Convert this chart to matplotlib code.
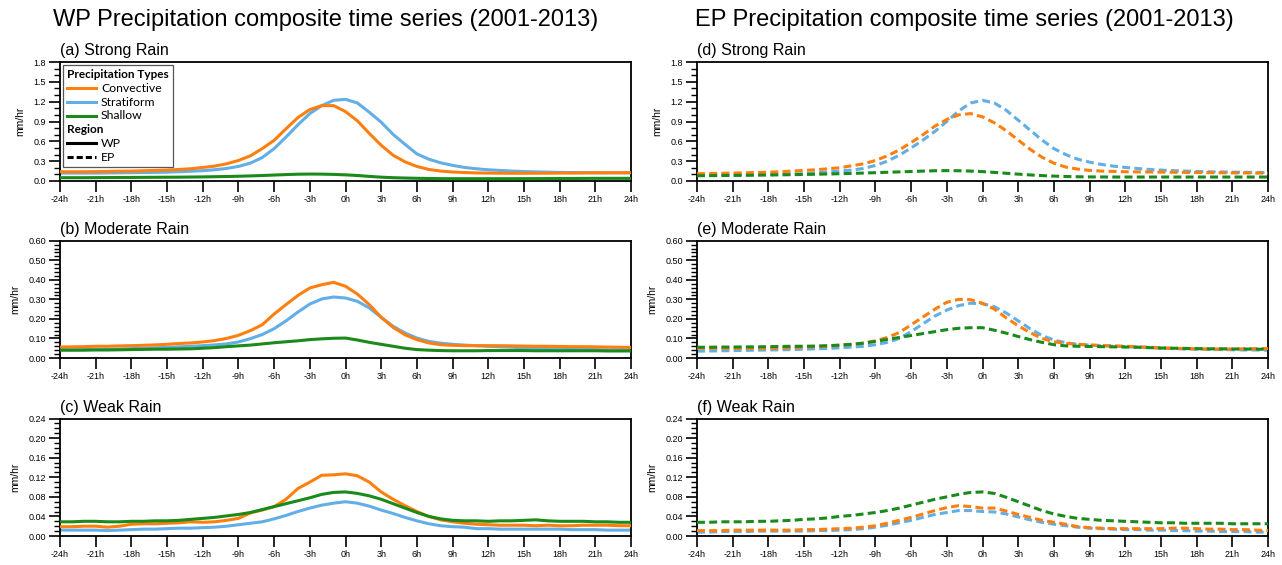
import numpy as np
import matplotlib
matplotlib.use("Agg")
import matplotlib.pyplot as plt
from matplotlib.lines import Line2D
from matplotlib.ticker import MultipleLocator, FormatStrFormatter
from matplotlib.offsetbox import AnchoredOffsetbox, VPacker, HPacker, TextArea, DrawingArea

hours = list(range(-24, 25))
xtick_vals = list(range(-24, 25, 3))
xtick_labels = [f"{h}h" for h in xtick_vals]

# ---- WP (left column) ----
a_conv = [0.14, 0.14, 0.14, 0.142, 0.145, 0.148, 0.15, 0.155, 0.16, 0.165,
          0.175, 0.185, 0.205, 0.225, 0.26, 0.31, 0.38, 0.49, 0.615, 0.79, 0.96, 1.08, 1.14, 1.14,
          1.05, 0.91, 0.72, 0.54, 0.39, 0.29, 0.22, 0.175, 0.15, 0.136, 0.128, 0.122, 0.12, 0.118,
          0.117, 0.117, 0.117, 0.118, 0.12, 0.12, 0.122, 0.124, 0.125, 0.125, 0.125]
a_strat = [0.12, 0.12, 0.12, 0.12, 0.122, 0.124, 0.126, 0.128, 0.13, 0.134,
           0.14, 0.148, 0.156, 0.17, 0.19, 0.22, 0.27, 0.355, 0.49, 0.665, 0.85, 1.02, 1.14, 1.22,
           1.235, 1.18, 1.04, 0.89, 0.705, 0.555, 0.41, 0.33, 0.275, 0.237, 0.205, 0.185, 0.17, 0.16,
           0.15, 0.143, 0.138, 0.134, 0.13, 0.128, 0.126, 0.125, 0.124, 0.124, 0.124]
a_shal = [0.05, 0.05, 0.05, 0.051, 0.052, 0.053, 0.054, 0.055, 0.056, 0.057,
          0.058, 0.06, 0.062, 0.065, 0.068, 0.072, 0.077, 0.083, 0.09, 0.097, 0.103, 0.105, 0.104, 0.1,
          0.093, 0.083, 0.07, 0.058, 0.05, 0.045, 0.041, 0.038, 0.036, 0.035, 0.035, 0.035, 0.035, 0.035,
          0.035, 0.036, 0.036, 0.037, 0.038, 0.038, 0.039, 0.04, 0.04, 0.04, 0.04]

b_conv = [0.056, 0.057, 0.058, 0.06, 0.06, 0.062, 0.063, 0.065, 0.067, 0.07,
          0.074, 0.077, 0.082, 0.089, 0.1, 0.116, 0.14, 0.17, 0.225, 0.273, 0.32, 0.358, 0.375, 0.387,
          0.367, 0.327, 0.273, 0.208, 0.157, 0.119, 0.094, 0.077, 0.068, 0.065, 0.063, 0.063, 0.063, 0.063,
          0.062, 0.061, 0.06, 0.06, 0.059, 0.058, 0.058, 0.057, 0.056, 0.055, 0.054]
b_strat = [0.042, 0.042, 0.043, 0.044, 0.045, 0.046, 0.048, 0.05, 0.052, 0.054,
           0.057, 0.06, 0.063, 0.067, 0.072, 0.082, 0.099, 0.12, 0.15, 0.19, 0.235, 0.276, 0.302, 0.312,
           0.307, 0.29, 0.256, 0.208, 0.162, 0.128, 0.102, 0.085, 0.076, 0.07, 0.066, 0.063, 0.06, 0.057,
           0.055, 0.052, 0.05, 0.048, 0.046, 0.045, 0.044, 0.043, 0.042, 0.042, 0.042]
b_shal = [0.04, 0.04, 0.04, 0.041, 0.041, 0.042, 0.043, 0.044, 0.045, 0.045,
          0.046, 0.047, 0.05, 0.053, 0.058, 0.062, 0.066, 0.072, 0.078, 0.083, 0.088, 0.094, 0.098, 0.101,
          0.102, 0.092, 0.08, 0.07, 0.06, 0.05, 0.043, 0.04, 0.038, 0.037, 0.037, 0.037, 0.038, 0.038,
          0.038, 0.038, 0.037, 0.037, 0.037, 0.037, 0.037, 0.037, 0.036, 0.036, 0.036]

c_conv = [0.019, 0.019, 0.02, 0.02, 0.018, 0.02, 0.024, 0.025, 0.025, 0.026,
          0.027, 0.029, 0.028, 0.029, 0.032, 0.036, 0.047, 0.053, 0.06, 0.075, 0.097, 0.11, 0.124, 0.125,
          0.127, 0.123, 0.11, 0.09, 0.075, 0.062, 0.05, 0.04, 0.033, 0.029, 0.026, 0.024, 0.023, 0.022,
          0.022, 0.022, 0.021, 0.022, 0.021, 0.021, 0.022, 0.022, 0.022, 0.021, 0.021]
c_strat = [0.012, 0.012, 0.012, 0.012, 0.011, 0.012, 0.013, 0.014, 0.014, 0.015,
           0.016, 0.016, 0.017, 0.018, 0.02, 0.023, 0.026, 0.029, 0.035, 0.042, 0.05, 0.057, 0.063, 0.067,
           0.07, 0.067, 0.061, 0.053, 0.046, 0.038, 0.031, 0.025, 0.021, 0.019, 0.018, 0.015, 0.015, 0.014,
           0.014, 0.014, 0.014, 0.014, 0.014, 0.013, 0.013, 0.013, 0.012, 0.012, 0.012]
c_shal = [0.029, 0.029, 0.03, 0.03, 0.029, 0.029, 0.03, 0.03, 0.031, 0.031,
          0.032, 0.034, 0.036, 0.038, 0.041, 0.044, 0.048, 0.054, 0.06, 0.066, 0.072, 0.078, 0.085, 0.089,
          0.09, 0.087, 0.082, 0.075, 0.066, 0.057, 0.048, 0.04, 0.035, 0.032, 0.031, 0.031, 0.03, 0.031,
          0.031, 0.032, 0.033, 0.031, 0.03, 0.03, 0.03, 0.029, 0.029, 0.028, 0.028]

# ---- EP (right column) ----
d_conv = [0.11, 0.113, 0.116, 0.12, 0.124, 0.128, 0.133, 0.14, 0.15, 0.16,
          0.17, 0.185, 0.2, 0.23, 0.26, 0.31, 0.38, 0.47, 0.58, 0.7, 0.83, 0.93, 1.0, 1.02,
          0.97, 0.88, 0.76, 0.62, 0.48, 0.36, 0.27, 0.21, 0.18, 0.16, 0.15, 0.145, 0.14, 0.138,
          0.136, 0.134, 0.132, 0.13, 0.128, 0.126, 0.125, 0.123, 0.122, 0.12, 0.12]
d_strat = [0.09, 0.09, 0.092, 0.094, 0.096, 0.098, 0.1, 0.103, 0.106, 0.11,
           0.125, 0.135, 0.15, 0.165, 0.19, 0.235, 0.3, 0.39, 0.5, 0.62, 0.75, 0.9, 1.06, 1.18,
           1.22, 1.18, 1.07, 0.92, 0.77, 0.62, 0.49, 0.4, 0.33, 0.285, 0.25, 0.225, 0.205, 0.19,
           0.175, 0.165, 0.157, 0.15, 0.145, 0.14, 0.137, 0.134, 0.132, 0.13, 0.128]
d_shal = [0.08, 0.081, 0.082, 0.084, 0.086, 0.088, 0.09, 0.093, 0.096, 0.099,
          0.102, 0.106, 0.11, 0.115, 0.12, 0.126, 0.132, 0.138, 0.144, 0.15, 0.155, 0.157, 0.155, 0.15,
          0.142, 0.13, 0.117, 0.104, 0.092, 0.082, 0.074, 0.068, 0.064, 0.062, 0.061, 0.06, 0.06, 0.06,
          0.06, 0.06, 0.06, 0.06, 0.06, 0.06, 0.06, 0.06, 0.06, 0.06, 0.06]

e_conv = [0.05, 0.05, 0.05, 0.05, 0.05, 0.05, 0.05, 0.051, 0.053, 0.055,
          0.058, 0.061, 0.065, 0.07, 0.076, 0.088, 0.105, 0.13, 0.17, 0.21, 0.25, 0.285, 0.3, 0.298,
          0.28, 0.25, 0.205, 0.165, 0.13, 0.1, 0.083, 0.075, 0.07, 0.067, 0.064, 0.062, 0.06, 0.057,
          0.055, 0.052, 0.05, 0.048, 0.047, 0.046, 0.046, 0.046, 0.047, 0.048, 0.048]
e_strat = [0.035, 0.036, 0.037, 0.038, 0.039, 0.04, 0.041, 0.042, 0.043, 0.045,
           0.047, 0.049, 0.052, 0.056, 0.06, 0.068, 0.08, 0.1, 0.135, 0.175, 0.215, 0.245, 0.268, 0.28,
           0.278, 0.262, 0.23, 0.19, 0.15, 0.115, 0.092, 0.078, 0.07, 0.066, 0.063, 0.06, 0.058, 0.056,
           0.053, 0.05, 0.048, 0.046, 0.045, 0.044, 0.043, 0.042, 0.041, 0.041, 0.04]
e_shal = [0.055, 0.055, 0.056, 0.056, 0.057, 0.057, 0.058, 0.059, 0.06, 0.06,
          0.061, 0.063, 0.066, 0.07, 0.076, 0.085, 0.095, 0.105, 0.115, 0.125, 0.135, 0.145, 0.152, 0.155,
          0.155, 0.142, 0.127, 0.11, 0.094, 0.08, 0.068, 0.062, 0.06, 0.059, 0.058, 0.057, 0.056, 0.055,
          0.053, 0.051, 0.05, 0.049, 0.048, 0.047, 0.047, 0.046, 0.046, 0.045, 0.045]

f_conv = [0.011, 0.011, 0.011, 0.012, 0.012, 0.012, 0.012, 0.012, 0.012, 0.013,
          0.013, 0.014, 0.015, 0.016, 0.018, 0.021, 0.026, 0.032, 0.038, 0.045, 0.052, 0.058, 0.062, 0.06,
          0.057, 0.057, 0.051, 0.044, 0.038, 0.032, 0.028, 0.024, 0.019, 0.017, 0.016, 0.015, 0.015, 0.015,
          0.015, 0.015, 0.016, 0.016, 0.015, 0.014, 0.014, 0.013, 0.013, 0.012, 0.011]
f_strat = [0.008, 0.008, 0.009, 0.009, 0.009, 0.01, 0.01, 0.01, 0.01, 0.01,
           0.011, 0.011, 0.012, 0.013, 0.015, 0.018, 0.022, 0.027, 0.032, 0.038, 0.044, 0.048, 0.052, 0.052,
           0.05, 0.049, 0.045, 0.039, 0.033, 0.028, 0.024, 0.021, 0.018, 0.016, 0.015, 0.014, 0.013, 0.013,
           0.012, 0.012, 0.011, 0.011, 0.01, 0.01, 0.009, 0.009, 0.009, 0.008, 0.008]
f_shal = [0.028, 0.028, 0.029, 0.029, 0.029, 0.03, 0.03, 0.031, 0.032, 0.034,
          0.035, 0.037, 0.04, 0.042, 0.045, 0.048, 0.052, 0.057, 0.063, 0.069, 0.075, 0.08, 0.085, 0.089,
          0.09, 0.087, 0.079, 0.07, 0.061, 0.052, 0.045, 0.04, 0.036, 0.034, 0.032, 0.031, 0.03, 0.029,
          0.028, 0.027, 0.027, 0.026, 0.026, 0.026, 0.026, 0.025, 0.025, 0.025, 0.025]

panel_titles = ["(a) Strong Rain", "(b) Moderate Rain", "(c) Weak Rain",
                "(d) Strong Rain", "(e) Moderate Rain", "(f) Weak Rain"]
col_titles = ["WP Precipitation composite time series (2001-2013)",
              "EP Precipitation composite time series (2001-2013)"]
type_names = ["Convective", "Stratiform", "Shallow"]
region_names = ["WP", "EP"]

COLORS = ["#FF7F0E", "#62AEE6", "#1A8A1A"]
TITLE_FONT = "Liberation Sans"
LEG_FONT = "Lato"

fig = plt.figure(figsize=(12.82, 5.65), dpi=100)
W, H = 1282.0, 565.0
col_x = [60, 697]
ax_w = 571
rows_px = [(62, 181), (240.7, 358), (418.5, 536)]
ylims = [1.8, 0.6, 0.24]
ymajor = [0.3, 0.1, 0.04]
yminor = [0.1, 0.02, 0.01]
yfmt = ["%.1f", "%.2f", "%.2f"]

data = [
    [(a_conv, a_strat, a_shal), (b_conv, b_strat, b_shal), (c_conv, c_strat, c_shal)],
    [(d_conv, d_strat, d_shal), (e_conv, e_strat, e_shal), (f_conv, f_strat, f_shal)],
]

axes = []
for ci in range(2):
    for ri in range(3):
        top, bot = rows_px[ri]
        ax = fig.add_axes([col_x[ci] / W, 1 - bot / H, ax_w / W, (bot - top) / H])
        axes.append(ax)
        series = data[ci][ri]
        for s, col in zip(series, COLORS):
            if ci == 0:
                ax.plot(hours, s, color=col, lw=2.2, solid_capstyle="butt", zorder=3 if col != COLORS[1] else 2)
            else:
                ax.plot(hours, s, color=col, lw=2.2, dashes=(2.6, 1.4), zorder=3 if col != COLORS[1] else 2)
        ax.set_xlim(-24, 24)
        ax.set_ylim(0, ylims[ri])
        ax.set_xticks(xtick_vals)
        ax.set_xticklabels(xtick_labels, fontsize=6.5, family=TITLE_FONT)
        ax.yaxis.set_major_locator(MultipleLocator(ymajor[ri]))
        ax.yaxis.set_minor_locator(MultipleLocator(yminor[ri]))
        ax.yaxis.set_major_formatter(FormatStrFormatter(yfmt[ri]))
        for lab in ax.get_yticklabels():
            lab.set_fontsize(6.5)
            lab.set_family(TITLE_FONT)
        ax.tick_params(axis="both", which="major", direction="out", length=8, width=1.2, pad=2,
                       top=False, right=False)
        ax.tick_params(axis="y", which="minor", direction="out", length=4, width=1.0)
        ax.tick_params(axis="x", which="minor", bottom=False)
        for sp in ax.spines.values():
            sp.set_linewidth(1.3)
        ax.set_ylabel("mm/hr", fontsize=7.5, family=TITLE_FONT, labelpad=6)
        ax.set_title(panel_titles[ci * 3 + ri], loc="left", fontsize=11.5, family=TITLE_FONT, pad=5)

# column titles
fig.text(326 / W, 1 - 20 / H, col_titles[0], ha="center", va="center", fontsize=17, family=TITLE_FONT)
fig.text(964 / W, 1 - 20 / H, col_titles[1], ha="center", va="center", fontsize=17, family=TITLE_FONT)

# legend in panel (a)
def legend_row(color, dashed, label):
    da = DrawingArea(21, 7, 0, 0)
    ln = Line2D([0, 21], [3.5, 3.5], color=color, lw=2.2)
    if dashed:
        ln.set_dashes((2.0, 1.0))
    da.add_artist(ln)
    ta = TextArea(label, textprops=dict(fontsize=8.8, family=LEG_FONT))
    return HPacker(children=[da, ta], sep=3.5, align="center", pad=0)

rows = [TextArea("Precipitation Types", textprops=dict(fontsize=8.5, family=LEG_FONT, weight="bold"))]
for name, col in zip(type_names, COLORS):
    rows.append(legend_row(col, False, name))
rows.append(TextArea("Region", textprops=dict(fontsize=8.5, family=LEG_FONT, weight="bold")))
rows.append(legend_row("black", False, region_names[0]))
rows.append(legend_row("black", True, region_names[1]))
vbox = VPacker(children=rows, sep=2.0, align="left", pad=0)
anch = AnchoredOffsetbox(loc="upper left", child=vbox, pad=0.3, borderpad=0.2, frameon=True,
                         bbox_to_anchor=(0, 1), bbox_transform=axes[0].transAxes)
anch.patch.set_edgecolor("#555555")
anch.patch.set_linewidth(0.9)
axes[0].add_artist(anch)

fig.savefig("out.png", dpi=100)
